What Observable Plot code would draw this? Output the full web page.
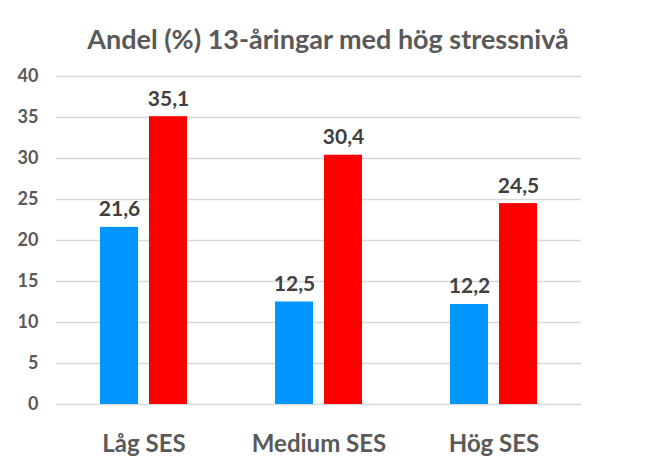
<!DOCTYPE html>
<html>
<head>
<meta charset="utf-8">
<script src="https://cdn.jsdelivr.net/npm/d3@7"></script>
<script src="https://cdn.jsdelivr.net/npm/@observablehq/plot@0.6"></script>
<style>
  body { margin: 0; background: #fff; }
  #wrap { width: 650px; height: 472px; font-family: Lato, "Open Sans", sans-serif; }
  #title { height: 60px; box-sizing: border-box; padding-top: 23px; padding-left: 6px; text-align: center; font-size: 27px; font-weight: bold; color: #595959; line-height: 32px; }
</style>
</head>
<body>
<div id="wrap">
  <div id="title">Andel (%) 13-åringar med hög stressnivå</div>
  <div id="chart"></div>
</div>
<script>
const categories = ["Låg SES", "Medium SES", "Hög SES"];
const series = ["Serie 1", "Serie 2"];
const values1 = [21.6, 12.5, 12.2];
const values2 = [35.1, 30.4, 24.5];
const yTicks = [0, 5, 10, 15, 20, 25, 30, 35, 40];
const colors = ["#0096ff", "#ff0000"];

const data = [];
categories.forEach((c, i) => {
  data.push({cat: c, s: series[0], v: values1[i]});
  data.push({cat: c, s: series[1], v: values2[i]});
});
const fmt = v => String(v).replace(".", ",");

const chart = Plot.plot({
  width: 650,
  height: 412,
  marginLeft: 55,
  marginRight: 68,
  marginTop: 16,
  marginBottom: 68,
  style: {fontFamily: "Lato, 'Open Sans', sans-serif", background: "#fff"},
  fx: {domain: categories, padding: 0, axis: "bottom", label: null, tickSize: 0, tickPadding: 30},
  x: {domain: series, paddingInner: 0.22, paddingOuter: 0.873, axis: null},
  y: {domain: [0, 40], ticks: yTicks, tickSize: 0, tickPadding: 18, label: null},
  color: {domain: series, range: colors},
  marks: [
    Plot.gridY(yTicks, {stroke: "#d9d9d9", strokeOpacity: 1, strokeWidth: 1.5}),
    Plot.barY(data, {fx: "cat", x: "s", y: "v", fill: "s"}),
    Plot.text(data, {fx: "cat", x: "s", y: "v", text: d => fmt(d.v), lineAnchor: "bottom", dy: -11, fontSize: 21, fontWeight: "bold", fill: "#404040"})
  ]
});
d3.select(chart).selectAll("[aria-label='y-axis tick label']").attr("font-size", 18).attr("font-weight", "bold").attr("fill", "#595959");
d3.select(chart).selectAll("[aria-label='fx-axis tick label']").attr("font-size", 24).attr("font-weight", "bold").attr("fill", "#595959");
document.getElementById("chart").appendChild(chart);
</script>
</body>
</html>
